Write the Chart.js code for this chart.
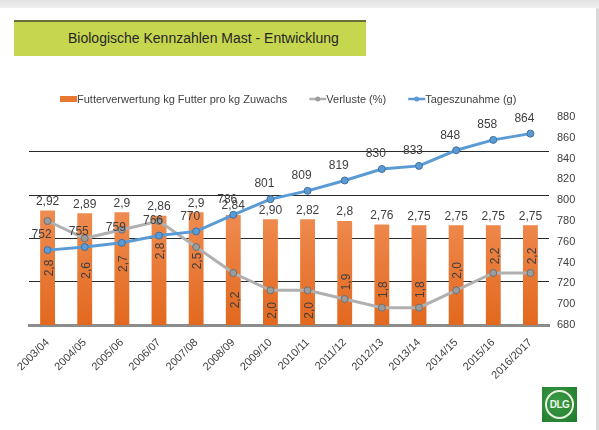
<!DOCTYPE html>
<html>
<head>
<meta charset="utf-8">
<script src="https://cdn.jsdelivr.net/npm/chart.js@4.4.0/dist/chart.umd.min.js"></script>
<style>
  body { margin: 0; width: 599px; height: 430px; overflow: hidden; position: relative;
         background: linear-gradient(#e2e2e2, #f0f0f0 8px, #d9d9d9 9px); font-family: "Liberation Sans", Arial, sans-serif; }
  #page { position: absolute; left: 0; top: 8px; width: 596px; height: 422px; background: #fff; }
  #title { position: absolute; left: 14px; top: 20px; width: 352px; height: 36px; box-sizing: border-box;
           background: #c6d64f; border-top: 2px solid #6c6e3a; color: #262626; font-size: 14px;
           line-height: 33px; padding-left: 54px; white-space: nowrap; }
  #logo { position: absolute; left: 542px; top: 387px; width: 35px; height: 35px;
          background: radial-gradient(circle at 40% 40%, #3a9a45, #1f7a2c); }
  #logo span { position: absolute; left: 3px; top: 3px; width: 25px; height: 25px; border: 2px solid #e8f2e0;
               border-radius: 50%; color: #eef6e8; font: bold 10px "Liberation Sans Narrow", Arial, sans-serif;
               line-height: 25px; text-align: center; letter-spacing: -0.5px; }
  canvas { position: absolute; left: 0; top: 0; }
</style>
</head>
<body>
<div id="page"></div>
<div id="title">Biologische Kennzahlen Mast - Entwicklung</div>
<div id="logo"><span>DLG</span></div>
<canvas id="chart" width="599" height="430"></canvas>
<script>
const years = ['2003/04', '2004/05', '2005/06', '2006/07', '2007/08', '2008/09', '2009/10',
               '2010/11', '2011/12', '2012/13', '2013/14', '2014/15', '2015/16', '2016/2017'];
// bar heights as drawn, and the labels printed above them
const futterValues = [2.92, 2.89, 2.90, 2.86, 2.90, 2.87, 2.82, 2.82, 2.80, 2.76, 2.75, 2.75, 2.75, 2.75];
const futterLabels = ['2,92', '2,89', '2,9', '2,86', '2,9', '2,84', '2,90', '2,82', '2,8', '2,76', '2,75', '2,75', '2,75', '2,75'];
const verluste = [2.8, 2.6, 2.7, 2.8, 2.5, 2.2, 2.0, 2.0, 1.9, 1.8, 1.8, 2.0, 2.2, 2.2];
const tageszunahme = [752, 755, 759, 766, 770, 786, 801, 809, 819, 830, 833, 848, 858, 864];
const gridTicks = [1.6, 2.1, 2.6, 3.1, 3.6];

// where each Verluste label sits relative to its point (px, + = below)
const verlusteLabelDy = [47, 32, 34, 30, 14, 27, 20, 20, -17, -18, -18, -20, -17, -17];

const FONT = '"Liberation Sans", Arial, sans-serif';
const TEXT = '#404040';

function barGradient(context) {
  const area = context.chart.chartArea;
  if (!area) return '#e8782f';
  const g = context.chart.ctx.createLinearGradient(0, 205, 0, area.bottom);
  g.addColorStop(0, 'rgb(240,142,84)');
  g.addColorStop(1, 'rgb(226,104,30)');
  return g;
}

const valueLabels = {
  id: 'valueLabels',
  afterDatasetsDraw(chart) {
    const ctx = chart.ctx;
    ctx.save();
    ctx.fillStyle = TEXT;
    ctx.font = '12px ' + FONT;
    ctx.textAlign = 'center';
    ctx.textBaseline = 'middle';
    chart.getDatasetMeta(0).data.forEach((bar, i) => {
      ctx.fillText(futterLabels[i], bar.x, bar.y - 9);
    });
    chart.getDatasetMeta(1).data.forEach((pt, i) => {
      ctx.save();
      ctx.translate(pt.x + 2, pt.y + verlusteLabelDy[i]);
      ctx.rotate(-Math.PI / 2);
      ctx.fillText(verluste[i].toFixed(1).replace('.', ','), 0, 0);
      ctx.restore();
    });
    chart.getDatasetMeta(2).data.forEach((pt, i) => {
      ctx.fillText(String(tageszunahme[i]), pt.x - 6, pt.y - 15);
    });
    ctx.restore();
  }
};

const legendRow = {
  id: 'legendRow',
  afterDraw(chart) {
    const ctx = chart.ctx;
    ctx.save();
    ctx.font = '11px ' + FONT;
    ctx.textBaseline = 'middle';
    let x = 60;
    const y = 99;
    chart.data.datasets.forEach(ds => {
      if (ds.type === 'bar') {
        ctx.fillStyle = '#e8782f';
        ctx.fillRect(x, y - 3, 17, 6);
      } else {
        ctx.strokeStyle = ds.borderColor;
        ctx.lineWidth = 2.5;
        ctx.beginPath();
        ctx.moveTo(x, y);
        ctx.lineTo(x + 17, y);
        ctx.stroke();
        ctx.beginPath();
        ctx.arc(x + 8.5, y, 2.5, 0, Math.PI * 2);
        ctx.fillStyle = ds.pointBackgroundColor;
        ctx.fill();
      }
      ctx.fillStyle = TEXT;
      ctx.fillText(ds.label, x + 17, y + 0.5);
      x += 17 + ctx.measureText(ds.label).width + 22;
    });
    ctx.restore();
  }
};

new Chart(document.getElementById('chart'), {
  data: {
    labels: years,
    datasets: [
      {
        type: 'bar',
        label: 'Futterverwertung kg Futter pro kg Zuwachs',
        data: futterValues,
        yAxisID: 'y',
        backgroundColor: barGradient,
        barPercentage: 0.4,
        categoryPercentage: 1.0,
        order: 3
      },
      {
        type: 'line',
        label: 'Verluste (%)',
        data: verluste,
        yAxisID: 'y',
        borderColor: '#b0b0b0',
        borderWidth: 3,
        pointRadius: 3.5,
        pointBackgroundColor: '#9c9c9c',
        pointBorderColor: '#707070',
        pointBorderWidth: 1,
        tension: 0,
        order: 2
      },
      {
        type: 'line',
        label: 'Tageszunahme (g)',
        data: tageszunahme,
        yAxisID: 'y2',
        borderColor: '#5b9bd5',
        borderWidth: 3,
        pointRadius: 3.5,
        pointBackgroundColor: '#5b9bd5',
        pointBorderColor: '#41719c',
        pointBorderWidth: 1,
        tension: 0,
        order: 1
      }
    ]
  },
  options: {
    responsive: false,
    animation: false,
    layout: { padding: { left: 29, top: 117, right: 0, bottom: 0 } },
    plugins: { legend: { display: false }, tooltip: { enabled: false } },
    scales: {
      x: {
        offset: true,
        grid: { display: false },
        border: { display: true, color: '#8c8c8c', width: 3 },
        ticks: { color: TEXT, font: { size: 11, family: FONT }, minRotation: 45, maxRotation: 45, autoSkip: false, padding: 3 },
        afterFit(s) { s.height = 105; s.paddingLeft = 0; s.paddingRight = 0; }
      },
      y: {
        position: 'left',
        min: 1.6,
        max: 4.0,
        afterBuildTicks(s) { s.ticks = gridTicks.map(v => ({ value: v })); },
        ticks: { display: false },
        grid: { color: '#2a2a2a', lineWidth: 1, drawTicks: false },
        border: { display: false },
        afterFit(s) { s.width = 0; s.paddingTop = 0; s.paddingBottom = 0; }
      },
      y2: {
        position: 'right',
        min: 680,
        max: 880,
        ticks: { stepSize: 20, color: TEXT, font: { size: 11, family: FONT }, padding: 8 },
        grid: { display: false, drawTicks: false },
        border: { display: false },
        afterFit(s) { s.width = 50; s.paddingTop = 0; s.paddingBottom = 0; }
      }
    }
  },
  plugins: [valueLabels, legendRow]
});
</script>
</body>
</html>
